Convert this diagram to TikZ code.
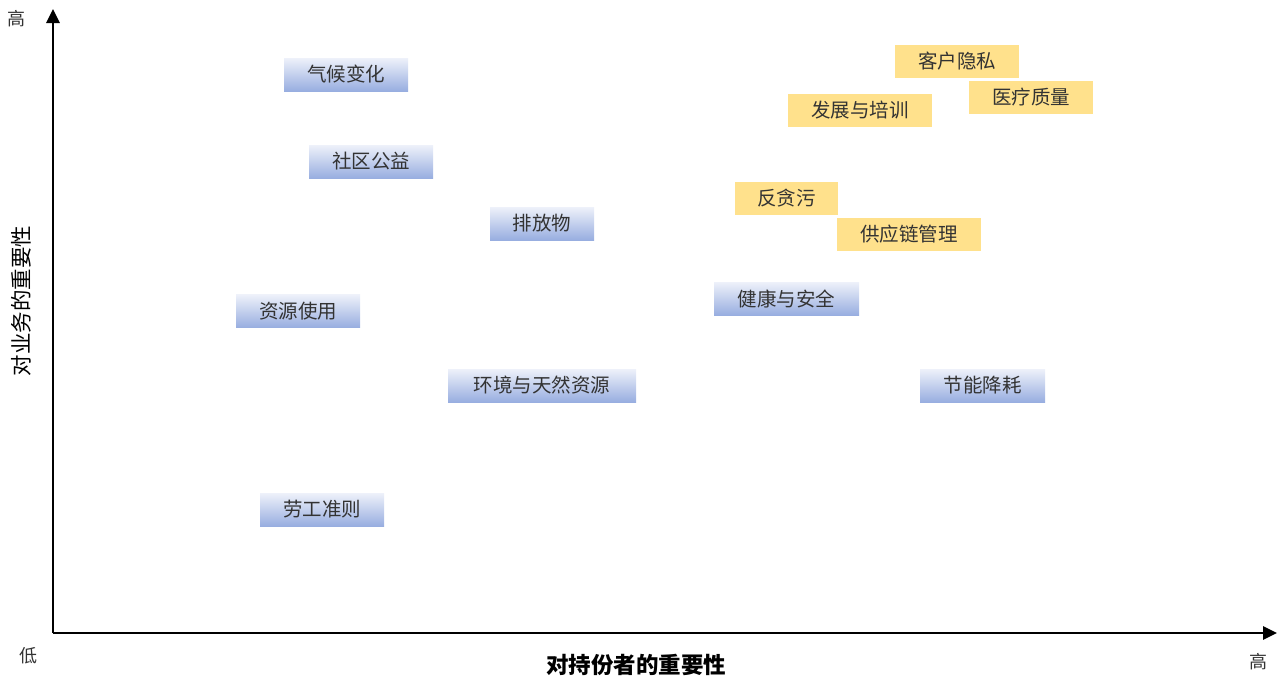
\documentclass[tikz,border=0pt]{standalone}
\usepackage{fontspec}
\newfontfamily\cjk{Noto Sans CJK SC}
\usetikzlibrary{arrows.meta}
\definecolor{ytop}{HTML}{FFE18C}
\definecolor{btop}{HTML}{EEF1FA}
\definecolor{bbot}{HTML}{98AEE0}
\definecolor{txt}{HTML}{333333}
\tikzset{
  lbl/.style={font=\cjk\fontsize{19.5}{20}\selectfont, text=txt, inner sep=0pt, minimum height=33pt, anchor=center},
  bluebox/.style={lbl, top color=btop, bottom color=bbot},
  yelbox/.style={lbl, fill=ytop},
  axis/.style={line width=2.7pt, -{Triangle[length=14pt,width=13pt]}},
  ends/.style={font=\cjk\fontsize{18}{18}\selectfont, text=txt},
  title/.style={font=\cjk\bfseries\fontsize{22.5}{23}\selectfont, text=black}
}
\begin{document}
\begin{tikzpicture}[x=1pt,y=-1pt]
\useasboundingbox (0,0) rectangle (1279,683);
\coordinate (O) at (53,633);
\coordinate (ytip) at (53,9);
\coordinate (xtip) at (1277,633);
\draw[axis] (O) -- (ytip);
\draw[axis] (O) -- (xtip);
\node[ends] (yhigh) at (17,19) {高};
\node[ends] (low) at (28,656) {低};
\node[ends] (xhigh) at (1258,662) {高};
\node[title] (xtitle) at (636,665) {对持份者的重要性};
\node[font=\cjk\fontsize{21.5}{22}\selectfont, rotate=90] (ytitle) at (21,301) {对业务的重要性};
% blue
\node[bluebox, minimum width=124pt] (b1) at (346,74.5) {气候变化};
\node[bluebox, minimum width=124pt] (b2) at (371,161.5) {社区公益};
\node[bluebox, minimum width=104pt] (b3) at (542,223.5) {排放物};
\node[bluebox, minimum width=124pt] (b4) at (298,311) {资源使用};
\node[bluebox, minimum width=188pt] (b5) at (542,385.5) {环境与天然资源};
\node[bluebox, minimum width=124pt] (b6) at (322,509.5) {劳工准则};
\node[bluebox, minimum width=145pt] (b7) at (786.5,298.5) {健康与安全};
\node[bluebox, minimum width=125pt] (b8) at (982.5,385.5) {节能降耗};
% yellow
\node[yelbox, minimum width=124pt] (y1) at (957,61.5) {客户隐私};
\node[yelbox, minimum width=124pt] (y2) at (1031,97.5) {医疗质量};
\node[yelbox, minimum width=144pt] (y3) at (860,110.5) {发展与培训};
\node[yelbox, minimum width=103pt] (y4) at (786.5,198.5) {反贪污};
\node[yelbox, minimum width=144pt] (y5) at (909,234.5) {供应链管理};
\end{tikzpicture}
\end{document}
